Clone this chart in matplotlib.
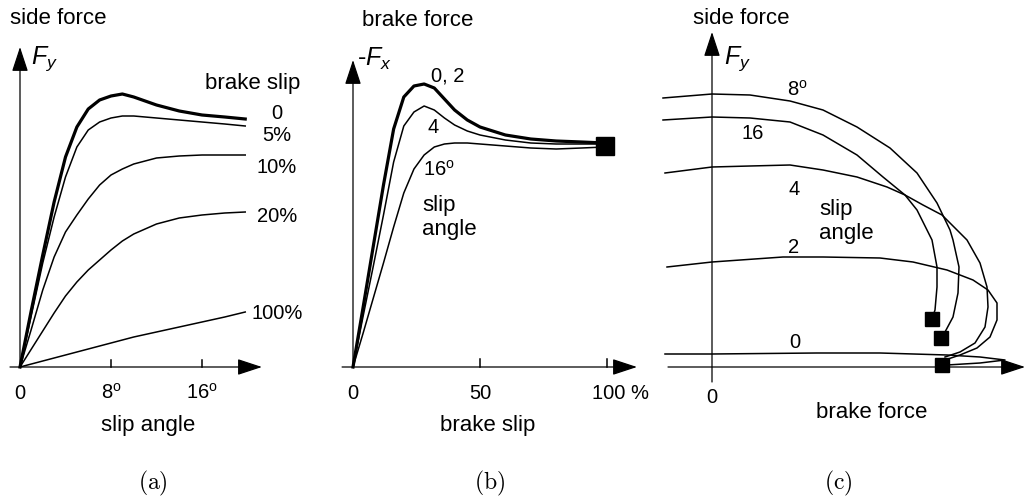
import matplotlib.pyplot as plt

plt.rcParams['font.family'] = ['Liberation Sans', 'DejaVu Sans']
plt.rcParams['mathtext.fontset'] = 'custom'
plt.rcParams['mathtext.rm'] = 'Liberation Sans'
plt.rcParams['mathtext.it'] = 'Liberation Sans:italic'

# ---------------------------------------------------------------
# (a) side force vs slip angle, one curve per brake slip
# ---------------------------------------------------------------
slip_angle = [0, 1, 2, 3, 4, 5, 6, 7, 8, 9, 10, 12, 14, 16, 18, 19.8]
fy_slip_0 = [0, 57, 112, 165, 210, 240, 258, 267, 271, 273, 270, 262, 256, 252, 250, 248]
fy_slip_5 = [0, 52, 104, 150, 190, 220, 237, 245, 249, 251, 251, 249, 247, 245, 243, 241]
fy_slip_10 = [0, 38, 77, 110, 135, 152, 168, 182, 192, 198, 203, 209, 211, 212, 212, 212]
fy_slip_20 = [0, 18, 36, 54, 71, 85, 97, 107, 117, 126, 133, 143, 149, 152, 154, 155]
fy_slip_100 = [0, 3, 6, 9, 12, 15, 18, 21, 24, 27, 30, 35, 40, 45, 50, 55]
slip_labels = ['0', '5%', '10%', '20%', '100%']

# ---------------------------------------------------------------
# (b) brake force vs brake slip, one curve per slip angle
# ---------------------------------------------------------------
brake_slip = [0, 4, 8, 12, 16, 20, 24, 28, 32, 36, 40, 45, 50, 60, 70, 80, 90, 99]
fx_angle_0_2 = [0, 60, 121, 182, 238, 270, 281, 283, 279, 268, 257, 247, 240, 232, 228, 226, 225, 224]
fx_angle_4 = [0, 51, 101, 152, 205, 241, 255, 261, 257, 249, 242, 236, 232, 227, 224, 223, 223, 223]
fx_angle_16 = [0, 34, 69, 104, 140, 174, 198, 212, 220, 223, 224, 224, 223, 221, 219, 218, 219, 220]
locked_b = (99.2, 221)

# ---------------------------------------------------------------
# (c) side force vs brake force, one curve per slip angle
# ---------------------------------------------------------------
fx_8 = [-49, 0, 38, 78, 111, 145, 178, 205, 225, 238, 241, 247, 246, 241, 233, 229]
fy_8 = [269, 273, 272, 266, 257, 240, 219, 194, 164, 137, 127, 100, 74, 50, 35, 29]
fx_16 = [-49, 0, 38, 78, 111, 145, 171, 193, 205, 215, 220, 225, 225, 223, 220]
fy_16 = [247, 250, 249, 245, 232, 212, 190, 172, 157, 137, 127, 100, 80, 57, 48]
fx_4 = [-47, 0, 38, 78, 111, 145, 175, 193, 211, 230, 245, 255, 268, 275, 276, 273, 263, 248, 233]
fy_4 = [194, 200, 201, 202, 197, 190, 180, 172, 162, 152, 137, 127, 104, 80, 60, 40, 24, 15, 10]
fx_2 = [-45, 0, 71, 111, 168, 201, 235, 261, 276, 285, 285, 278, 265, 248, 233]
fy_2 = [100, 105, 110, 110, 109, 105, 97, 87, 77, 64, 47, 30, 19, 12, 7]
fx_0 = [-47, 0, 105, 168, 235, 268, 293, 268, 235, 230]
fy_0 = [13, 13, 14, 14, 12, 10, 7, 4, 2, 2]
locked_c_x = [220, 229, 230]
locked_c_y = [48, 29, 2]

W, H = 1027, 498
fig = plt.figure(figsize=(W / 100, H / 100), dpi=100)


def panel(left, right, x0, xscale):
    # axes over pixel columns left..right, origin of the sketch at (x0, 367)
    ax = fig.add_axes([left / W, (H - 440) / H, (right - left) / W, 440 / H])
    ax.set_xlim((left - x0) / xscale, (right - x0) / xscale)
    ax.set_ylim(-73, 367)
    ax.axis('off')
    return ax


def arrow(ax, start, tip):
    ax.annotate('', xy=tip, xytext=start,
                arrowprops=dict(arrowstyle='-|>,head_length=0.85,head_width=0.28',
                                mutation_scale=18, lw=0.9, color='k',
                                shrinkA=0, shrinkB=0))


thin = dict(color='k', lw=1.1, solid_joinstyle='round')
thick = dict(color='k', lw=2.3, solid_joinstyle='round')
word = 16
num = 14.5

# ----- (a)
ax = panel(0, 300, 20, 11.375)
arrow(ax, (-0.88, 0), (21.27, 0))
arrow(ax, (0, 0), (0, 320))
for t in [8, 16]:
    ax.plot([t, t], [0, 7], **thin)
ax.plot(slip_angle, fy_slip_0, **thick)
for fy in [fy_slip_5, fy_slip_10, fy_slip_20, fy_slip_100]:
    ax.plot(slip_angle, fy, **thin)
for lab, yy in zip(slip_labels, [254, 232, 200, 151, 54]):
    ax.text(22.6, yy, lab, fontsize=num, ha='center', va='center')
ax.text(16.3, 284, 'brake slip', fontsize=word, va='center')
ax.text(-0.9, 349, 'side force', fontsize=word, va='center')
ax.text(1.0, 308, '$F_y$', fontsize=18, va='center')
ax.text(0, -26, '0', fontsize=num, ha='center', va='center')
ax.text(8, -26, r'8$^\mathrm{o}$', fontsize=num, ha='center', va='center')
ax.text(16, -26, r'16$^\mathrm{o}$', fontsize=num, ha='center', va='center')
ax.text(11.25, -58, 'slip angle', fontsize=word, ha='center', va='center')

# ----- (b)
ax = panel(330, 660, 353, 2.54)
arrow(ax, (-4.3, 0), (111.8, 0))
arrow(ax, (0, 0), (0, 307))
for t in [50, 100]:
    ax.plot([t, t], [0, 8], **thin)
ax.plot(brake_slip, fx_angle_0_2, **thick)
ax.plot(brake_slip, fx_angle_4, **thin)
ax.plot(brake_slip, fx_angle_16, **thin)
ax.plot(*locked_b, marker='s', ms=13.5, color='k', ls='none')
ax.text(37.4, 291, '0, 2', fontsize=num, ha='center', va='center')
ax.text(31.5, 240, '4', fontsize=num, ha='center', va='center')
ax.text(27.6, 197, r'16$^\mathrm{o}$', fontsize=num, va='center')
ax.text(27.2, 162, 'slip', fontsize=word, va='center')
ax.text(27.2, 138, 'angle', fontsize=word, va='center')
ax.text(3.5, 347, 'brake force', fontsize=word, va='center')
ax.text(1.5, 308, '-$F_x$', fontsize=18, va='center')
ax.text(0, -26, '0', fontsize=num, ha='center', va='center')
ax.text(50, -26, '50', fontsize=num, ha='center', va='center')
ax.text(94.1, -26, '100 %', fontsize=num, va='center')
ax.text(53.1, -58, 'brake slip', fontsize=word, ha='center', va='center')

# ----- (c)
ax = panel(660, 1027, 712, 1.0)
arrow(ax, (-44, 0), (313, 0))
arrow(ax, (0, -15), (0, 335))
for fx, fy in [(fx_8, fy_8), (fx_16, fy_16), (fx_4, fy_4), (fx_2, fy_2), (fx_0, fy_0)]:
    ax.plot(fx, fy, **thin)
ax.plot(locked_c_x, locked_c_y, marker='s', ms=10, color='k', ls='none')
ax.text(75, 277, r'8$^\mathrm{o}$', fontsize=num, va='center')
ax.text(41, 234, '16', fontsize=num, ha='center', va='center')
ax.text(82, 178, '4', fontsize=num, ha='center', va='center')
ax.text(107, 158, 'slip', fontsize=word, va='center')
ax.text(107, 134, 'angle', fontsize=word, va='center')
ax.text(82, 120, '2', fontsize=num, ha='center', va='center')
ax.text(83, 25, '0', fontsize=num, ha='center', va='center')
ax.text(-19, 349, 'side force', fontsize=word, va='center')
ax.text(12, 308, '$F_y$', fontsize=18, va='center')
ax.text(0, -30, '0', fontsize=num, ha='center', va='center')
ax.text(160, -45, 'brake force', fontsize=word, ha='center', va='center')

# captions
for lab, xc in [('(a)', 153), ('(b)', 490), ('(c)', 838)]:
    fig.text(xc / W, 1 - 483 / H, r'$\mathrm{' + lab + '}$', fontsize=17,
             math_fontfamily='cm', ha='center', va='center')

fig.savefig('out.png', dpi=100)
